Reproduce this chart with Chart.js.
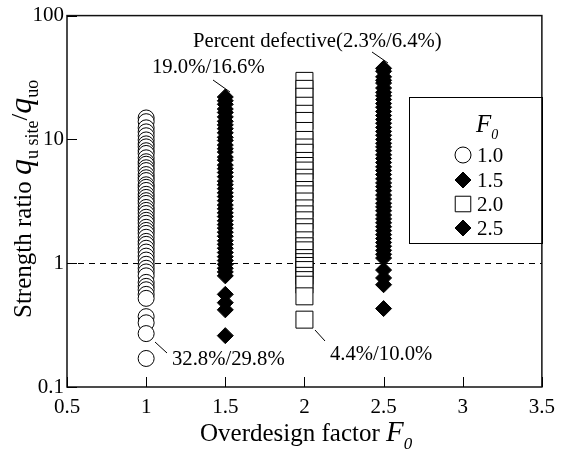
<!DOCTYPE html>
<html>
<head>
<meta charset="utf-8">
<script src="https://cdn.jsdelivr.net/npm/chart.js@4"></script>
<style>
  html, body { margin: 0; padding: 0; background: #fff; }
  canvas { display: block; }
</style>
</head>
<body>
<canvas id="myChart" width="563" height="452"></canvas>
<script>
// data
const factors = [1.0, 1.5, 2.0, 2.5];
const legendLabels = ['1.0', '1.5', '2.0', '2.5'];

const ratioF10 = [14.9, 13.9, 12.4, 11.5, 10.7, 9.9, 9.2, 8.7, 8.1, 7.7, 7.1, 6.6, 6.3, 5.9, 5.6,
    5.2, 4.9, 4.65, 4.3, 4.1, 3.87, 3.6, 3.4, 3.2, 3.04, 2.82, 2.67, 2.52, 2.35, 2.22, 2.1, 1.95,
    1.84, 1.74, 1.62, 1.5, 1.42, 1.32, 1.23, 1.14, 1.06, 0.98, 0.91, 0.85, 0.79, 0.7, 0.65, 0.61,
    0.56, 0.52, 0.37, 0.33, 0.27, 0.17];
const ratioF15 = [22.0, 20.5, 19.2, 17.6, 16.5, 15.2, 14.0, 13.1, 12.2, 11.3, 10.4, 9.8, 9.0, 8.4,
    7.9, 7.2, 6.8, 6.2, 5.8, 5.4, 5.0, 4.6, 4.3, 4.0, 3.7, 3.45, 3.2, 2.95, 2.75, 2.55, 2.38, 2.2,
    2.05, 1.92, 1.78, 1.65, 1.52, 1.42, 1.32, 1.22, 1.13, 1.05, 0.98, 0.91, 0.85, 0.79, 0.56, 0.48,
    0.42, 0.26];
const ratioF20 = [29.7, 25.6, 22.1, 18.7, 16.1, 14.1, 11.7, 9.9, 8.6, 7.8, 6.7, 6.1, 5.6, 4.9, 4.5,
    3.9, 3.6, 3.15, 2.77, 2.48, 2.22, 1.95, 1.78, 1.53, 1.37, 1.27, 1.1, 1.02, 0.95, 0.88, 0.79,
    0.73, 0.67, 0.54, 0.35];
const ratioF25 = [37.5, 35.5, 32.0, 30.0, 28.5, 26.0, 24.0, 22.5, 21.0, 19.5, 18.2, 16.8, 15.6, 14.5,
    13.5, 12.5, 11.6, 10.8, 10.0, 9.3, 8.7, 8.1, 7.5, 7.0, 6.5, 6.0, 5.6, 5.2, 4.8, 4.45, 4.15, 3.85,
    3.55, 3.3, 3.05, 2.85, 2.65, 2.45, 2.28, 2.12, 1.97, 1.83, 1.7, 1.58, 1.47, 1.37, 1.27, 1.18, 1.1,
    0.88, 0.76, 0.67, 0.43];

const xTicks = [0.5, 1, 1.5, 2, 2.5, 3, 3.5];
const xTickLabels = ['0.5', '1', '1.5', '2', '2.5', '3', '3.5'];
const yTicks = [0.1, 1, 10, 100];
const yTickLabels = ['0.1', '1', '10', '100'];
const refLine = 1;

const serif = 'Liberation Serif';

// marker looks for each F0
const markers = [
    { pointStyle: 'circle', radius: 8, fill: '#fff' },
    { pointStyle: 'rectRot', radius: 8, fill: '#000' },
    { pointStyle: 'rect', radius: 12, fill: '#fff' },
    { pointStyle: 'rectRot', radius: 8, fill: '#000' }
];

const allRatios = [ratioF10, ratioF15, ratioF20, ratioF25];

const datasets = allRatios.map(function (vals, i) {
    return {
        label: legendLabels[i],
        data: vals.map(v => ({ x: factors[i], y: v })),
        pointStyle: markers[i].pointStyle,
        pointRadius: markers[i].radius,
        pointHoverRadius: markers[i].radius,
        pointBackgroundColor: markers[i].fill,
        pointBorderColor: '#000',
        pointBorderWidth: 1,
        showLine: false
    };
});

// draws text pieces one after the other (for subscripts / italics)
function drawParts(ctx, parts, x, y) {
    let cx = x;
    parts.forEach(function (p) {
        ctx.font = p.font;
        ctx.fillText(p.text, cx, y + (p.dy || 0));
        cx += ctx.measureText(p.text).width + (p.gap || 0);
    });
}

function pointer(ctx, x1, y1, x2, y2) {
    ctx.beginPath();
    ctx.moveTo(x1, y1);
    ctx.lineTo(x2, y2);
    ctx.stroke();
}

const decorations = {
    id: 'decorations',
    beforeDatasetsDraw(chart) {
        const ctx = chart.ctx;
        const area = chart.chartArea;
        const y = Math.round(chart.scales.y.getPixelForValue(refLine)) + 0.5;
        ctx.save();
        ctx.strokeStyle = '#000';
        ctx.lineWidth = 1;
        ctx.setLineDash([6, 5]);
        ctx.beginPath();
        ctx.moveTo(area.left, y);
        ctx.lineTo(area.right, y);
        ctx.stroke();
        ctx.restore();
    },
    afterDraw(chart) {
        const ctx = chart.ctx;
        const area = chart.chartArea;
        const xs = chart.scales.x;
        const ys = chart.scales.y;
        ctx.save();

        // frame
        ctx.strokeStyle = '#111';
        ctx.lineWidth = 1.5;
        ctx.strokeRect(area.left, area.top, area.right - area.left, area.bottom - area.top);

        // inward ticks
        ctx.lineWidth = 1;
        ctx.strokeStyle = '#000';
        xTicks.forEach(function (v) {
            const px = Math.round(xs.getPixelForValue(v)) + 0.5;
            pointer(ctx, px, area.bottom, px, area.bottom - 10);
        });
        yTicks.forEach(function (v) {
            const py = Math.round(ys.getPixelForValue(v)) + 0.5;
            pointer(ctx, area.left, py, area.left + 10, py);
        });

        // legend box
        ctx.lineWidth = 1;
        ctx.strokeRect(409.5, 97.5, 133, 146);
        ctx.fillStyle = '#000';
        ctx.textAlign = 'left';
        ctx.textBaseline = 'alphabetic';
        drawParts(ctx, [
            { text: 'F', font: 'italic 25px ' + serif },
            { text: '0', font: 'italic 14px ' + serif, dy: 7 }
        ], 476, 132);
        const rowsY = [155, 180, 204, 228];
        legendLabels.forEach(function (lab, i) {
            ctx.fillStyle = markers[i].fill;
            ctx.strokeStyle = '#000';
            ctx.lineWidth = 1;
            const r = markers[i].pointStyle === 'rect' ? 11 : markers[i].radius;
            Chart.helpers.drawPoint(ctx, { pointStyle: markers[i].pointStyle, radius: r, rotation: 0, borderWidth: 1 }, 463, rowsY[i]);
            ctx.fillStyle = '#000';
            ctx.font = '21px ' + serif;
            ctx.fillText(lab, 477, rowsY[i] + 7);
        });

        // annotations
        ctx.font = '20.7px ' + serif;
        ctx.fillStyle = '#000';
        ctx.fillText('Percent defective(2.3%/6.4%)', 193, 47);
        ctx.fillText('19.0%/16.6%', 152, 73);
        ctx.fillText('32.8%/29.8%', 172, 365);
        ctx.fillText('4.4%/10.0%', 330, 360);
        ctx.lineWidth = 1;
        pointer(ctx, 372, 52, 388, 63);
        pointer(ctx, 213, 80, 230, 92);
        pointer(ctx, 155, 342, 167, 353);
        pointer(ctx, 315, 330, 325, 341);

        // x axis title
        drawParts(ctx, [
            { text: 'Overdesign factor ', font: '25px ' + serif },
            { text: 'F', font: 'italic 29px ' + serif },
            { text: '0', font: 'italic 17px ' + serif, dy: 8 }
        ], 200, 441);

        // y axis title (rotated)
        ctx.translate(31, 318);
        ctx.rotate(-Math.PI / 2);
        drawParts(ctx, [
            { text: 'Strength ratio ', font: '25px ' + serif },
            { text: 'q', font: 'italic 32px ' + serif },
            { text: 'u site', font: '18px ' + serif, dy: 7 },
            { text: '/', font: '24px ' + serif, dy: -4 },
            { text: 'q', font: 'italic 32px ' + serif },
            { text: 'uo', font: '18px ' + serif, dy: 7 }
        ], 0, 0);

        ctx.restore();
    }
};

new Chart(document.getElementById('myChart'), {
    type: 'scatter',
    data: { datasets: datasets },
    options: {
        responsive: false,
        animation: false,
        layout: { padding: { top: 14, right: 15, left: 0, bottom: 0 } },
        plugins: {
            legend: { display: false },
            tooltip: { enabled: false }
        },
        scales: {
            x: {
                type: 'linear',
                min: 0.5,
                max: 3.5,
                afterBuildTicks: s => { s.ticks = xTicks.map(v => ({ value: v })); },
                afterFit: s => { s.height = 65; },
                grid: { display: false, drawTicks: false },
                border: { display: false },
                ticks: {
                    autoSkip: false,
                    maxRotation: 0,
                    padding: 8,
                    color: '#000',
                    font: { family: serif, size: 21 },
                    callback: (v, i) => xTickLabels[i]
                }
            },
            y: {
                type: 'logarithmic',
                min: 0.1,
                max: 100,
                afterBuildTicks: s => { s.ticks = yTicks.map(v => ({ value: v })); },
                afterFit: s => { s.width = 67; },
                grid: { display: false, drawTicks: false },
                border: { display: false },
                ticks: {
                    autoSkip: false,
                    padding: 3,
                    color: '#000',
                    font: { family: serif, size: 21 },
                    callback: (v, i) => yTickLabels[i]
                }
            }
        }
    },
    plugins: [decorations]
});
</script>
</body>
</html>
